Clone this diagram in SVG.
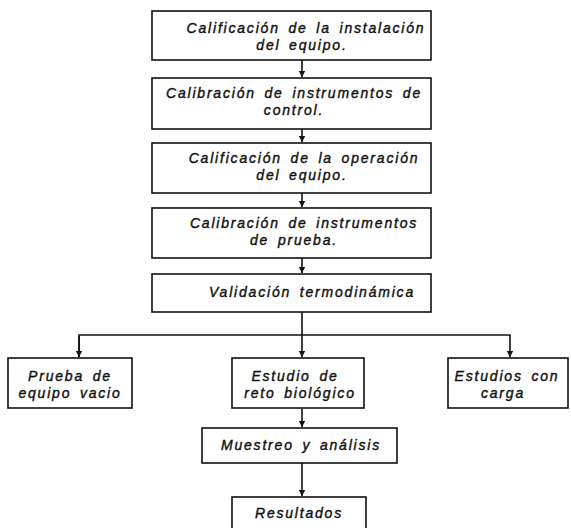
<svg xmlns="http://www.w3.org/2000/svg" width="571" height="528" viewBox="0 0 571 528">
<defs>
<marker id="ah" markerWidth="8" markerHeight="8" refX="6" refY="4" orient="auto" markerUnits="userSpaceOnUse">
<path d="M0,0.8 L6,4 L0,7.2 Z" fill="#111"/>
</marker>
<style>
.box{fill:#fff;stroke:#111;stroke-width:1.6}
.t{font-family:"Liberation Sans",Arial,sans-serif;font-style:italic;font-size:14px;fill:#111;stroke:#111;stroke-width:0.4px;letter-spacing:1.8px;word-spacing:3px;text-anchor:middle}
.c{fill:none;stroke:#111;stroke-width:1.6}
</style>
</defs>
<rect width="571" height="528" fill="#fff"/>
<g id="connectors">
<path class="c" d="M302,60 V77" marker-end="url(#ah)"/>
<path class="c" d="M302,129 V142" marker-end="url(#ah)"/>
<path class="c" d="M302,193 V207" marker-end="url(#ah)"/>
<path class="c" d="M302,258 V273" marker-end="url(#ah)"/>
<path class="c" d="M302,312 V357" marker-end="url(#ah)"/>
<path class="c" d="M79,357 V335 H510 V357" marker-end="url(#ah)"/>
<path class="c" d="M79,336 V357" marker-end="url(#ah)"/>
<path class="c" d="M302,409 V427" marker-end="url(#ah)"/>
<path class="c" d="M302,463 V496" marker-end="url(#ah)"/>
</g>
<g id="n1"><rect class="box" x="152" y="11" width="279" height="49"/>
<text class="t" x="306" y="33">Calificación de la instalación</text><text class="t" x="302" y="50">del equipo.</text></g>
<g id="n2"><rect class="box" x="152" y="78" width="279" height="51"/>
<text class="t" x="294" y="98">Calibración de instrumentos de</text><text class="t" x="294" y="115">control.</text></g>
<g id="n3"><rect class="box" x="152" y="143" width="279" height="50"/>
<text class="t" x="304" y="163">Calificación de la operación</text><text class="t" x="302" y="180">del equipo.</text></g>
<g id="n4"><rect class="box" x="152" y="208" width="279" height="50"/>
<text class="t" x="304" y="228">Calibración de instrumentos</text><text class="t" x="294" y="245">de prueba.</text></g>
<g id="n5"><rect class="box" x="152" y="274" width="279" height="38"/>
<text class="t" x="312" y="297">Validación termodinámica</text></g>
<g id="n6"><rect class="box" x="8" y="358" width="124" height="50"/>
<text class="t" x="70" y="381">Prueba de</text><text class="t" x="70" y="398">equipo vacio</text></g>
<g id="n7"><rect class="box" x="232" y="358" width="132" height="50"/>
<text class="t" x="295" y="381">Estudio de</text><text class="t" x="300" y="398">reto biológico</text></g>
<g id="n8"><rect class="box" x="448" y="358" width="120" height="50"/>
<text class="t" x="507" y="381">Estudios con</text><text class="t" x="503" y="398">carga</text></g>
<g id="n9"><rect class="box" x="202" y="428" width="195" height="35"/>
<text class="t" x="301" y="450">Muestreo y análisis</text></g>
<g id="n10"><rect class="box" x="232" y="497" width="134" height="40"/>
<text class="t" x="299" y="518">Resultados</text></g>
</svg>
